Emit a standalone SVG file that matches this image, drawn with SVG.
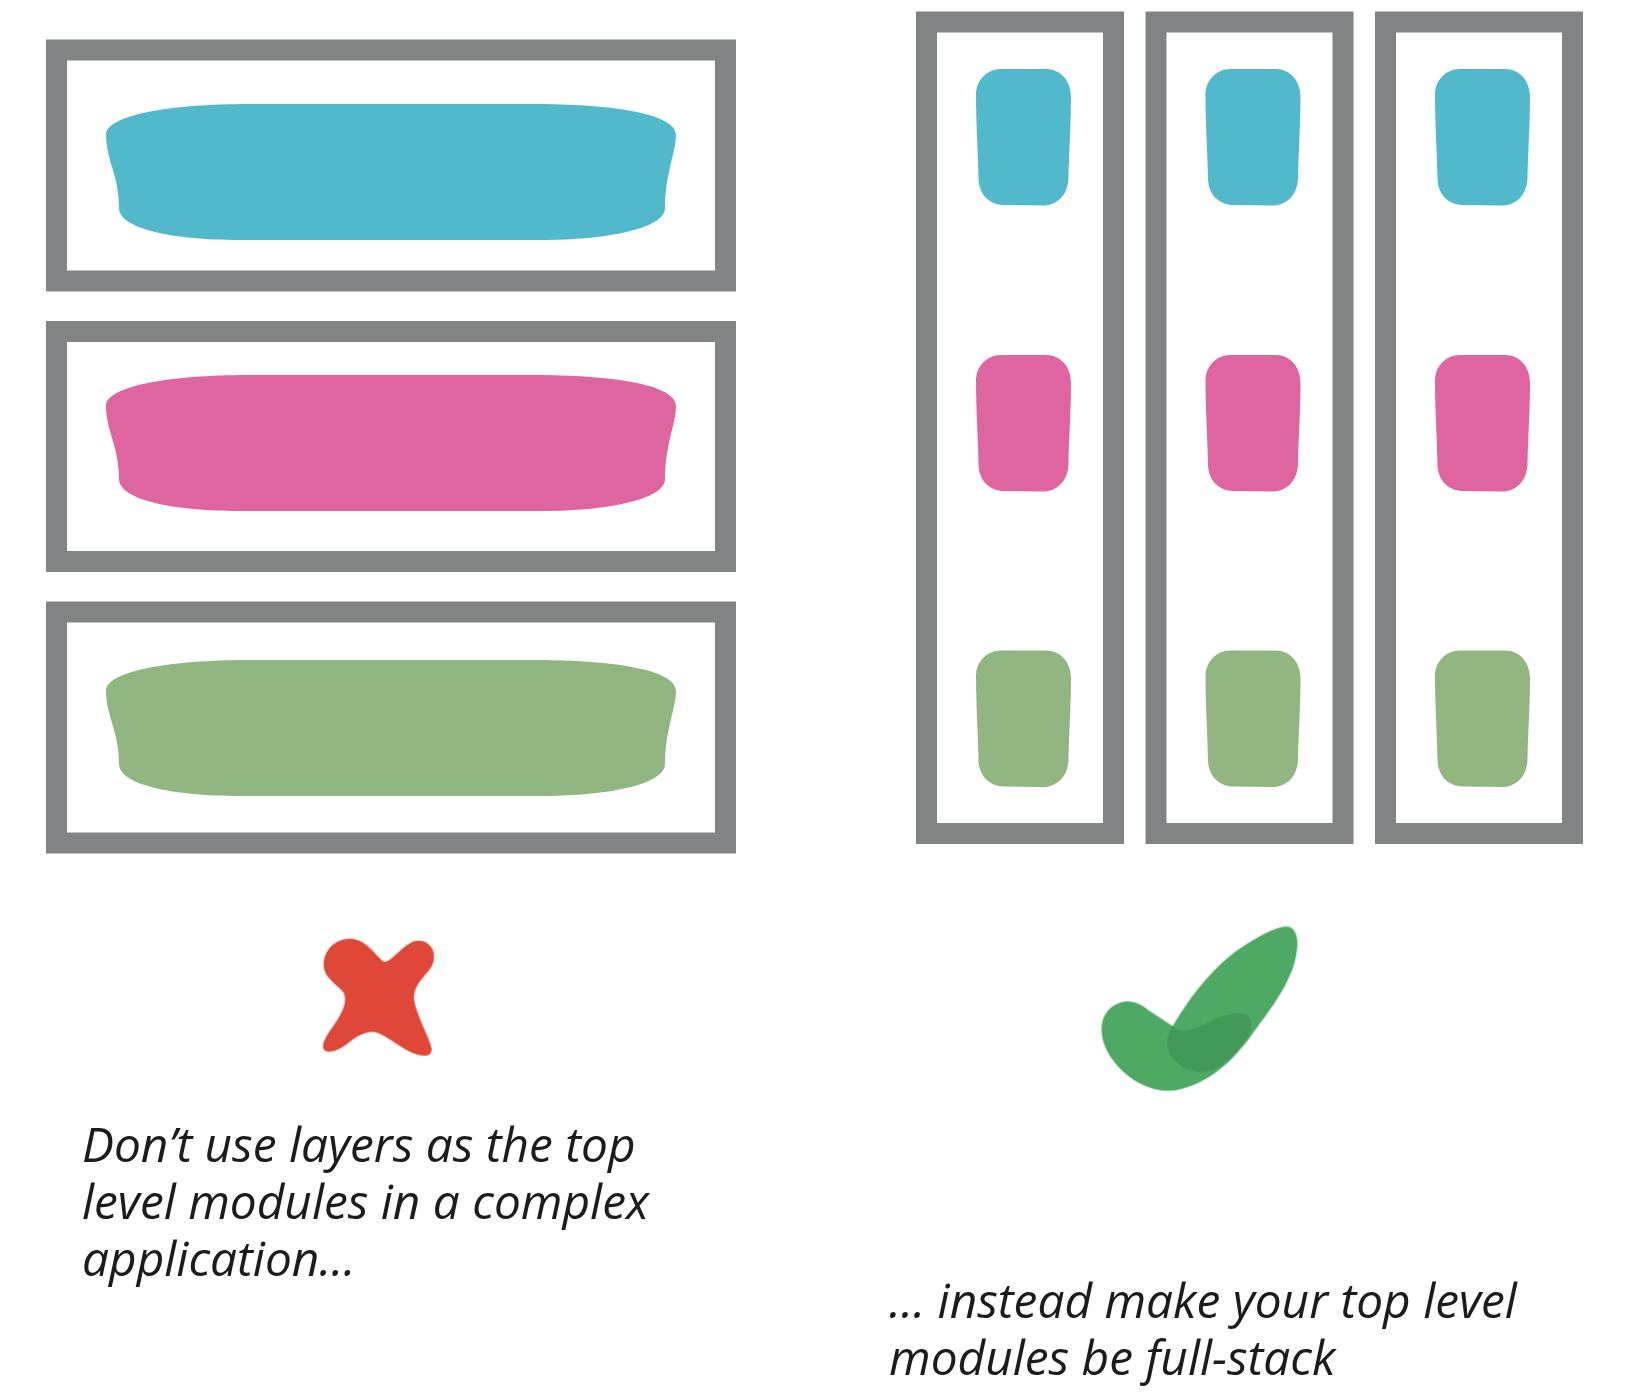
<svg xmlns="http://www.w3.org/2000/svg" width="1628" height="1398" viewBox="0 0 1628 1398">
<style>
.frame{fill:#fff;stroke:#828385;stroke-width:21}
.c{fill:#51b9cb}.m{fill:#df65a0}.g{fill:#92b682}
.t{font-family:"Open Sans",sans-serif;font-style:italic;font-size:47.800px;fill:#1a1a1a}
#art{filter:url(#soft)}
</style>
<defs>
<filter id="soft" x="0" y="0" width="1628" height="1398" filterUnits="userSpaceOnUse"><feGaussianBlur stdDeviation="0.7"/></filter>
<path id="wide" d="M106 135C106 115 170 104 249 104L530 104C620 104 676 115 676 135C676 152 665 175 665 208C665 228 610 240 540 240L240 240C170 240 119 228 119 208C119 175 106 160 106 135Z"/>
<path id="small" d="M976 95C976 80 987 69 1001 69L1046 69C1061 69 1071 81 1071 97C1071 125 1069 150 1068.500 178C1068 195 1057 205.500 1043 205.500L1003 205C989 204.500 979 194 978.500 179C978 150 976 125 976 95Z"/>
</defs>
<g id="art">
<g id="layer-1"><rect class="frame" x="56.500" y="50" width="669" height="231"/><use href="#wide" class="c"/></g>
<g id="layer-2"><rect class="frame" x="56.500" y="331.500" width="669" height="230"/><use href="#wide" class="m" y="271"/></g>
<g id="layer-3"><rect class="frame" x="56.500" y="612" width="669" height="231"/><use href="#wide" class="g" y="556"/></g>
<g id="stack-1"><rect class="frame" x="926.500" y="22" width="187" height="811.500"/><use href="#small" class="c"/><use href="#small" class="m" y="286"/><use href="#small" class="g" y="581.500"/></g>
<g id="stack-2"><rect class="frame" x="1156" y="22" width="187" height="811.500"/><use href="#small" class="c" x="229.500"/><use href="#small" class="m" x="229.500" y="286"/><use href="#small" class="g" x="229.500" y="581.500"/></g>
<g id="stack-3"><rect class="frame" x="1385.500" y="22" width="187" height="811.500"/><use href="#small" class="c" x="459"/><use href="#small" class="m" x="459" y="286"/><use href="#small" class="g" x="459" y="581.500"/></g>
<g id="cross"><path fill="#df4738" transform="translate(300 910) scale(.3333)" d="M255 155C235 153 205 86 150 86C105 86 71 120 71 165C71 205 115 225 132 250C142 280 125 310 105 340C85 370 60 400 72 420C90 435 125 415 150 395C175 375 200 365 220 366C250 368 300 415 345 432C370 440 397 442 395 415C387 380 347 310 342 265C340 230 368 205 388 180C418 140 398 92 355 92C315 92 280 153 255 155Z"/></g>
<g id="check" transform="translate(1080 910) scale(.3333)"><path fill="#4ea964" d="M278 348C330 260 400 170 480 115C540 75 605 40 632 52C660 70 655 120 640 170C615 245 555 320 515 375C460 450 390 520 290 540C200 555 120 490 85 430C50 370 60 300 115 280C150 265 180 280 205 300Z"/><path fill="#439a58" d="M278 348C300 375 340 360 380 340C420 320 460 305 490 312C520 320 520 350 505 375C480 420 440 460 400 480C340 500 290 470 270 430C255 400 265 365 278 348Z"/></g>
<g id="captions">
<text class="t" x="82" y="1162">Don’t use layers as the top</text>
<text class="t" x="82" y="1219">level modules in a complex</text>
<text class="t" x="82" y="1276">application…</text>
<text class="t" x="889" y="1318">… instead make your top level</text>
<text class="t" x="889" y="1375">modules be full-stack</text>
</g>
</g>
</svg>
